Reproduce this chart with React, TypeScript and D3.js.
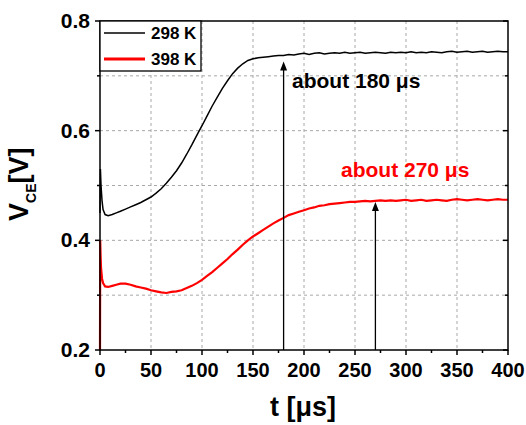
import React from "react";
import * as d3 from "d3";

const xTicks = [0, 50, 100, 150, 200, 250, 300, 350, 400];
const xMinorTicks = [25, 75, 125, 175, 225, 275, 325, 375];
const yTicks = [0.2, 0.4, 0.6, 0.8];
const yMinorTicks = [0.3, 0.5, 0.7];

const seriesNames = ["298 K", "398 K"];
const seriesColors = ["#000000", "#ff0000"];

const tBlack = [0, 0.4, 1, 2, 3, 5, 8, 12, 16, 20, 25, 30, 35, 40, 45, 50, 55, 60, 65, 70, 75, 80, 85, 90, 95, 100, 105, 110, 115, 120, 125, 130, 135, 140, 145, 150, 155, 160, 165, 170, 175, 180, 185, 190, 195, 200, 205, 210, 215, 220, 225, 230, 235, 240, 245, 250, 255, 260, 265, 270, 275, 280, 285, 290, 295, 300, 305, 310, 315, 320, 325, 330, 335, 340, 345, 350, 355, 360, 365, 370, 375, 380, 385, 390, 395, 400];
const vBlack = [0.45, 0.53, 0.5, 0.472, 0.456, 0.447, 0.445, 0.447, 0.45, 0.453, 0.457, 0.461, 0.465, 0.469, 0.474, 0.479, 0.486, 0.494, 0.504, 0.515, 0.527, 0.541, 0.557, 0.574, 0.592, 0.609, 0.627, 0.645, 0.661, 0.677, 0.691, 0.704, 0.714, 0.722, 0.728, 0.731, 0.733, 0.734, 0.735, 0.736, 0.737, 0.737, 0.739, 0.738, 0.74, 0.741, 0.739, 0.741, 0.742, 0.74, 0.741, 0.742, 0.741, 0.743, 0.741, 0.742, 0.743, 0.741, 0.742, 0.743, 0.742, 0.741, 0.743, 0.742, 0.743, 0.742, 0.744, 0.742, 0.743, 0.742, 0.744, 0.743, 0.742, 0.744, 0.745, 0.743, 0.744, 0.745, 0.743, 0.744, 0.745, 0.743, 0.744, 0.745, 0.744, 0.744];

const tRed = [0, 0.2, 0.6, 1, 2, 3, 5, 8, 12, 16, 20, 25, 30, 35, 40, 45, 50, 55, 60, 65, 70, 75, 80, 85, 90, 95, 100, 105, 110, 115, 120, 125, 130, 135, 140, 145, 150, 155, 160, 165, 170, 175, 180, 185, 190, 195, 200, 205, 210, 215, 220, 225, 230, 235, 240, 245, 250, 255, 260, 265, 270, 275, 280, 285, 290, 295, 300, 305, 310, 315, 320, 325, 330, 335, 340, 345, 350, 355, 360, 365, 370, 375, 380, 385, 390, 395, 400];
const vRed = [0.2, 0.4, 0.37, 0.35, 0.33, 0.322, 0.316, 0.315, 0.317, 0.319, 0.321, 0.321, 0.319, 0.316, 0.314, 0.312, 0.309, 0.307, 0.305, 0.304, 0.306, 0.307, 0.309, 0.313, 0.317, 0.322, 0.328, 0.335, 0.342, 0.35, 0.358, 0.366, 0.375, 0.383, 0.392, 0.4, 0.407, 0.413, 0.419, 0.425, 0.431, 0.436, 0.441, 0.446, 0.449, 0.452, 0.455, 0.458, 0.46, 0.463, 0.464, 0.466, 0.467, 0.468, 0.469, 0.47, 0.47, 0.471, 0.472, 0.471, 0.472, 0.473, 0.472, 0.473, 0.472, 0.473, 0.474, 0.472, 0.473, 0.474, 0.472, 0.473, 0.474, 0.473, 0.472, 0.474, 0.475, 0.474, 0.473, 0.474, 0.475, 0.474, 0.473, 0.474, 0.475, 0.474, 0.474];

const annotations = [
  { t: 180, tip: 0.726, label: "about 180 μs", lx: 292, ly: 0.678, color: "#000000" },
  { t: 270, tip: 0.47, label: "about 270 μs", lx: 341, ly: 0.516, color: "#ff0000" },
];

const W = 526;
const H = 425;
const m = { left: 100, right: 508, top: 21, bottom: 350 };
const FONT = "'Liberation Sans', Arial, sans-serif";

export default function App() {
  const x = d3.scaleLinear().domain([0, 400]).range([m.left, m.right]);
  const y = d3.scaleLinear().domain([0.2, 0.8]).range([m.bottom, m.top]);
  const line = d3
    .line<[number, number]>()
    .x((d) => x(d[0]))
    .y((d) => y(d[1]));
  const black = tBlack.map((t, i) => [t, vBlack[i]] as [number, number]);
  const red = tRed.map((t, i) => [t, vRed[i]] as [number, number]);

  return (
    <svg
      width={W}
      height={H}
      style={{ position: "absolute", left: 0, top: 0, background: "#fff" }}
      fontFamily={FONT}
    >
      <rect x={0} y={0} width={W} height={H} fill="#fff" />
      {/* grid */}
      {xTicks.slice(1, -1).map((t) => (
        <line key={"gx" + t} x1={x(t)} x2={x(t)} y1={m.top} y2={m.bottom} stroke="#a8a8a8" strokeWidth={1} strokeDasharray="3,3" />
      ))}
      {[...yTicks, ...yMinorTicks]
        .filter((v) => v > 0.2 && v < 0.8)
        .map((v) => (
          <line key={"gy" + v} x1={m.left} x2={m.right} y1={y(v)} y2={y(v)} stroke="#a8a8a8" strokeWidth={1} strokeDasharray="3,3" />
        ))}
      {/* series */}
      <path d={line(black) || ""} fill="none" stroke={seriesColors[0]} strokeWidth={1.5} />
      <path d={line(red) || ""} fill="none" stroke={seriesColors[1]} strokeWidth={2.2} />
      {/* annotations */}
      {annotations.map((a) => (
        <g key={a.label}>
          <line x1={x(a.t)} x2={x(a.t)} y1={m.bottom} y2={y(a.tip) + 6} stroke="#000" strokeWidth={1.3} />
          <path
            d={`M${x(a.t)},${y(a.tip)} L${x(a.t) - 3.5},${y(a.tip) + 9} L${x(a.t) + 3.5},${y(a.tip) + 9} Z`}
            fill="#000"
          />
          <text x={a.lx} y={y(a.ly)} fontSize={21} fontWeight="bold" fill={a.color}>
            {a.label}
          </text>
        </g>
      ))}
      {/* frame */}
      <rect x={m.left} y={m.top} width={m.right - m.left} height={m.bottom - m.top} fill="none" stroke="#000" strokeWidth={1.5} />
      {/* x ticks */}
      {xTicks.map((t) => (
        <g key={"xt" + t}>
          <line x1={x(t)} x2={x(t)} y1={m.bottom} y2={m.bottom + 5} stroke="#000" strokeWidth={1.5} />
          <text x={x(t)} y={377} textAnchor="middle" fontSize={20} fontWeight="bold">
            {t}
          </text>
        </g>
      ))}
      {xMinorTicks.map((t) => (
        <line key={"xm" + t} x1={x(t)} x2={x(t)} y1={m.bottom} y2={m.bottom + 3} stroke="#000" strokeWidth={1.5} />
      ))}
      {/* y ticks */}
      {yTicks.map((v) => (
        <g key={"yt" + v}>
          <line x1={m.left - 5} x2={m.left} y1={y(v)} y2={y(v)} stroke="#000" strokeWidth={1.5} />
          <line x1={m.right} x2={m.right - 5} y1={y(v)} y2={y(v)} stroke="#000" strokeWidth={1.5} />
          <text x={90} y={y(v) + 7} textAnchor="end" fontSize={21} fontWeight="bold">
            {v.toFixed(1)}
          </text>
        </g>
      ))}
      {yMinorTicks.map((v) => (
        <g key={"ym" + v}>
          <line x1={m.left - 3} x2={m.left} y1={y(v)} y2={y(v)} stroke="#000" strokeWidth={1.5} />
          <line x1={m.right} x2={m.right - 3} y1={y(v)} y2={y(v)} stroke="#000" strokeWidth={1.5} />
        </g>
      ))}
      {/* legend */}
      <rect x={m.left} y={m.top} width={101} height={50} fill="#fff" stroke="#000" strokeWidth={1.3} />
      {seriesNames.map((name, i) => (
        <g key={name}>
          <line x1={104} x2={145} y1={33 + i * 26} y2={33 + i * 26} stroke={seriesColors[i]} strokeWidth={i === 0 ? 1.4 : 2.8} />
          <text x={151} y={39 + i * 26} fontSize={17} fontWeight="bold">
            {name}
          </text>
        </g>
      ))}
      {/* axis titles */}
      <text x={270} y={416} fontSize={27} fontWeight="bold">
        t [μs]
      </text>
      <text transform="translate(28,221) rotate(-90)" fontSize={27} fontWeight="bold">
        V
        <tspan fontSize={14} dy={8}>CE</tspan>
        <tspan dy={-8}>[V]</tspan>
      </text>
    </svg>
  );
}
